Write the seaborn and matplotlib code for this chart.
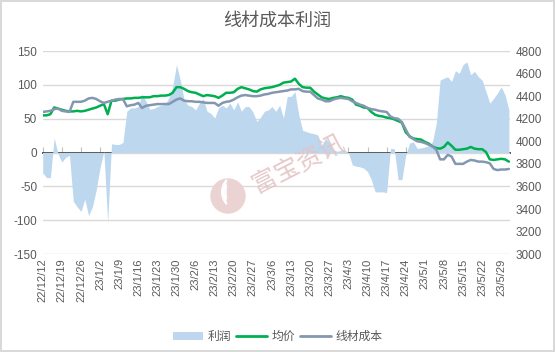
import numpy as np
import pandas as pd
import matplotlib.pyplot as plt
import seaborn as sns
from matplotlib.patches import Patch, Ellipse, Arc
from matplotlib.lines import Line2D

# trading days shown in the chart
dates = pd.bdate_range('2022-12-12', '2023-05-31')

# 利润 (left axis)
profit = [-30, -37, -37, 22, -2, -14, -7, -4, -72, -80,
          -87, -69, -93, -80, -55, -22, 2, -103, 13, 12,
          12, 15, 61, 66, 66, 68, 87, 76, 64, 65,
          68, 70, 71, 81, 97, 130, 107, 78, 70, 68,
          63, 73, 80, 61, 58, 51, 66, 70, 66, 73,
          63, 75, 61, 68, 68, 60, 46, 52, 61, 63,
          68, 61, 70, 51, 83, 83, 90, 56, 33, 31,
          29, 28, 26, 11, 21, 14, 4, 2, 3, 4,
          0, -18, -20, -21, -23, -28, -40, -58, -58, -58,
          -59, 6, 6, -40, -40, -4, 14, 16, 6, 7,
          8, 10, 16, 43, 107, 110, 112, 105, 121, 117,
          130, 134, 115, 120, 112, 107, 90, 73, 80, 88,
          97, 85, 63]

# 均价 (right axis)
price = [4230, 4230, 4240, 4300, 4290, 4280, 4270, 4265, 4265, 4270,
         4265, 4270, 4280, 4290, 4300, 4315, 4330, 4240, 4360, 4360,
         4370, 4375, 4380, 4380, 4385, 4385, 4390, 4390, 4390, 4400,
         4400, 4405, 4405, 4410, 4430, 4480, 4480, 4465, 4445, 4435,
         4430, 4415, 4400, 4410, 4405, 4400, 4385, 4405, 4430, 4430,
         4435, 4465, 4480, 4470, 4460, 4445, 4440, 4460, 4470, 4475,
         4480, 4490, 4500, 4520, 4525, 4530, 4555, 4510, 4480, 4475,
         4475, 4440, 4415, 4390, 4380, 4375, 4385, 4390, 4400, 4390,
         4385, 4370, 4325, 4315, 4300, 4295, 4260, 4235, 4225, 4220,
         4210, 4205, 4195, 4180, 4165, 4080, 4045, 4025, 4020, 4015,
         3995, 3980, 3955, 3940, 3935, 3950, 3990, 3960, 3925, 3925,
         3930, 3935, 3950, 3935, 3930, 3930, 3905, 3840, 3835, 3840,
         3845, 3840, 3820]

# 线材成本 (right axis)
cost = [4260, 4265, 4270, 4285, 4290, 4270, 4265, 4260, 4350, 4350,
        4350, 4360, 4380, 4385, 4375, 4355, 4340, 4350, 4360, 4370,
        4375, 4375, 4310, 4320, 4325, 4340, 4295, 4315, 4320, 4325,
        4330, 4330, 4330, 4330, 4350, 4370, 4380, 4360, 4355, 4355,
        4350, 4350, 4345, 4340, 4340, 4340, 4315, 4340, 4350, 4355,
        4370, 4390, 4405, 4410, 4405, 4400, 4400, 4405, 4415, 4420,
        4430, 4435, 4440, 4445, 4450, 4460, 4460, 4465, 4445, 4440,
        4440, 4410, 4380, 4370, 4355, 4355, 4370, 4380, 4385, 4380,
        4375, 4355, 4340, 4325, 4315, 4295, 4285, 4280, 4270, 4265,
        4260, 4220, 4205, 4200, 4170, 4105, 4040, 4020, 4000, 3995,
        3985, 3970, 3955, 3925, 3840, 3840, 3880, 3865, 3800, 3800,
        3800, 3820, 3835, 3830, 3820, 3820, 3815, 3805, 3755, 3745,
        3750, 3750, 3755]

df = pd.DataFrame({'idx': np.arange(len(dates)), 'profit': profit,
                   'price': price, 'cost': cost})
tick_idx = list(range(0, len(dates), 5))
tick_lbl = [f"{d.year % 100}/{d.month}/{d.day}" for d in dates[tick_idx]]

c_area = '#bdd7ee'
c_green = '#00b050'
c_grey = '#8497b0'
c_text = '#595959'
c_grid = '#d9d9d9'

sns.set_theme(style='white')
plt.rcParams['font.family'] = ['Liberation Sans', 'Noto Sans CJK SC']
plt.rcParams['axes.unicode_minus'] = False

fig = plt.figure(figsize=(5.55, 3.52), dpi=100)
fig.patch.set_edgecolor(c_grid)
fig.patch.set_linewidth(1.5)
ax = fig.add_axes([0.077, 0.278, 0.842, 0.577])

ax.fill_between(df['idx'], 0, df['profit'], color=c_area, linewidth=0)
ax.set_ylim(-150, 150)
ax.set_yticks(range(-150, 151, 50))
ax.set_xlim(0, len(dates) - 0.7)
ax.yaxis.grid(True, color=c_grid, linewidth=1)
ax.set_axisbelow(True)
for s in ax.spines.values():
    s.set_visible(False)
ax.set_xticks(tick_idx)
ax.set_xticklabels(tick_lbl, rotation=90)
ax.tick_params(axis='x', length=0, pad=3, labelsize=8, labelcolor=c_text)
ax.tick_params(axis='y', length=0, pad=4, labelsize=8.5, labelcolor=c_text)
ax.set_xlabel('')
ax.set_ylabel('')

# horizontal axis line at zero with tick marks
sec = ax.secondary_xaxis(0.5)
sec.set_xticks(tick_idx)
sec.set_xticklabels([])
sec.tick_params(axis='x', direction='out', length=4, color='#bfbfbf', width=0.8)
sec.spines['bottom'].set_color('#bfbfbf')

ax2 = ax.twinx()
sns.lineplot(data=df, x='idx', y='price', ax=ax2, color=c_green, linewidth=1.8)
sns.lineplot(data=df, x='idx', y='cost', ax=ax2, color=c_grey, linewidth=1.8)
ax2.set_ylim(3000, 4800)
ax2.set_yticks(range(3000, 4801, 200))
ax2.tick_params(axis='y', length=0, pad=4, labelsize=8.5, labelcolor=c_text)
ax2.set_xlabel('')
ax2.set_ylabel('')
ax2.grid(False)
for s in ax2.spines.values():
    s.set_visible(False)

fig.text(0.5, 0.94, '线材成本利润', ha='center', va='center', fontsize=13, color=c_text)

# watermark
wm = '#e4c3c3'
fig.text(298 / 555, 1 - 164 / 352, '富宝资讯', ha='center', va='center', rotation=27,
         fontsize=18, color=wm, alpha=0.9)
fig.patches.append(Ellipse((228 / 555, 1 - 196 / 352), 34 / 555, 34 / 352,
                           transform=fig.transFigure, color='#ecd3d3', zorder=5))
for k, w in enumerate([24, 17, 10]):
    fig.patches.append(Arc((234 / 555 - k * 0.003, 1 - 192 / 352), w / 555, 30 / 352,
                           theta1=110, theta2=250, transform=fig.transFigure,
                           color='white', linewidth=1.4, zorder=6))

handles = [Patch(facecolor=c_area, edgecolor='none'),
           Line2D([], [], color=c_green, linewidth=2),
           Line2D([], [], color=c_grey, linewidth=2)]
fig.legend(handles, ['利润', '均价', '线材成本'], loc='center', ncol=3,
           bbox_to_anchor=(0.5, 1 - 337 / 352), frameon=False, fontsize=8.5,
           labelcolor=c_text, handlelength=2.6, handletextpad=0.4, columnspacing=0.4)

fig.savefig('out.png', dpi=100, edgecolor=fig.get_edgecolor())
